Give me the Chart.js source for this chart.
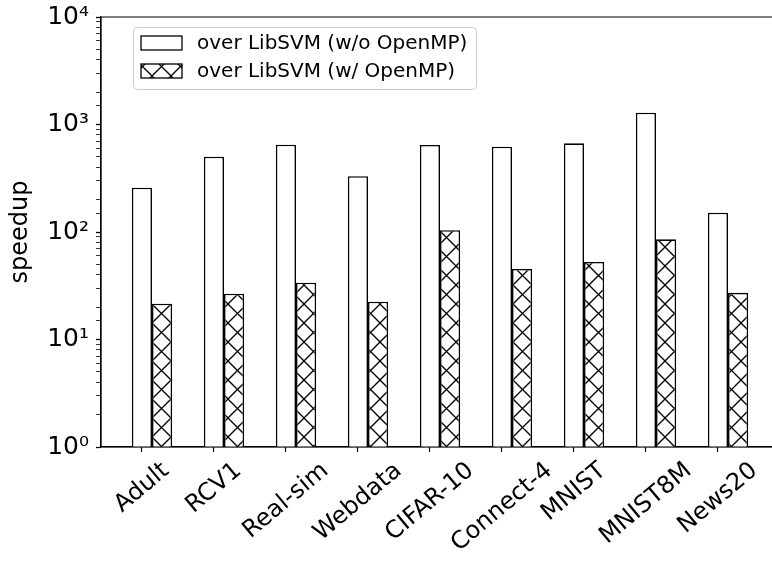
<!DOCTYPE html>
<html><head><meta charset="utf-8">
<script src="https://cdn.jsdelivr.net/npm/chart.js@4.4.1/dist/chart.umd.min.js"></script>
<style>
html,body{margin:0;padding:0;background:#fff;overflow:hidden;width:772px;height:561px}
#wrap{position:absolute;left:0;top:0;width:800px;height:561px}
</style>
</head><body><div id="wrap"><canvas id="c" width="800" height="561"></canvas></div>
<script>
// ---- data ----
const categories = ['Adult','RCV1','Real-sim','Webdata','CIFAR-10','Connect-4','MNIST','MNIST8M','News20'];
const seriesLabels = ['over LibSVM (w/o OpenMP)','over LibSVM (w/ OpenMP)'];
const speedupNoOpenMP = [258, 502, 649, 330, 645, 622, 668, 1288, 151];
const speedupOpenMP = [21.5, 26.7, 33.8, 22.5, 104, 45.3, 52.6, 85.5, 27.2];
const yTickLabels = ['10\u2070','10\u00B9','10\u00B2','10\u00B3','10\u2074'];

// ---- style ----
const FONT = '"DejaVu Sans", sans-serif';
const barW = 0.28;              // bar width in category units
const n = categories.length;
const span = (n - 1) + 2 * barW;
const xMin = -barW - 0.05 * span;
const xMax = (n - 1) + barW + 0.05 * span;

// hatch pattern ("xx")
function makeHatch() {
  const s = 19;
  const t = document.createElement('canvas');
  t.width = s; t.height = s;
  const g = t.getContext('2d');
  g.fillStyle = '#fff'; g.fillRect(0, 0, s, s);
  g.strokeStyle = '#000'; g.lineWidth = 1.3;
  for (let k = -1; k <= 1; k++) {
    g.beginPath(); g.moveTo(k * s, 0); g.lineTo(k * s + s, s); g.stroke();
    g.beginPath(); g.moveTo(k * s, s); g.lineTo(k * s + s, 0); g.stroke();
  }
  return g.createPattern(t, 'repeat');
}
const hatch = makeHatch();

const frame = {
  id: 'frame',
  afterDraw(chart) {
    const ctx = chart.ctx, a = chart.chartArea;
    ctx.save();
    // spines above bars
    ctx.strokeStyle = '#000'; ctx.lineWidth = 1.2;
    ctx.beginPath();
    ctx.moveTo(a.left, a.top); ctx.lineTo(a.right, a.top);
    ctx.moveTo(a.left, a.bottom); ctx.lineTo(a.right, a.bottom);
    ctx.moveTo(a.left, a.top); ctx.lineTo(a.left, a.bottom);
    ctx.stroke();

    // x tick labels (rotated, centred like matplotlib)
    const xs = chart.scales.x;
    const fs = 24;
    ctx.font = fs + 'px ' + FONT;
    ctx.fillStyle = '#000';
    ctx.textAlign = 'center'; ctx.textBaseline = 'middle';
    const ang = 40 * Math.PI / 180;
    xs.ticks.forEach((t, i) => {
      const px = xs.getPixelForTick(i);
      const w = ctx.measureText(categories[i]).width;
      const h = fs * 1.17;
      const H = w * Math.sin(ang) + h * Math.cos(ang);
      const cy = a.bottom + 10 + H / 2;
      ctx.save();
      ctx.translate(px, cy);
      ctx.rotate(-ang);
      ctx.fillText(categories[i], 0, 0);
      ctx.restore();
    });

    // legend
    const lx = a.left + 32, ly = a.top + 10, lw = 343, lh = 62;
    ctx.fillStyle = 'rgba(255,255,255,0.8)';
    ctx.strokeStyle = '#cccccc'; ctx.lineWidth = 1;
    ctx.beginPath(); ctx.roundRect(lx + 0.5, ly + 0.5, lw, lh, 4); ctx.fill(); ctx.stroke();
    ctx.font = '20px ' + FONT;
    ctx.textAlign = 'left'; ctx.textBaseline = 'middle';
    chart.data.datasets.forEach((ds, i) => {
      const ry = ly + 16 + i * 28;
      ctx.fillStyle = ds.backgroundColor;
      ctx.fillRect(lx + 8, ry - 7, 41, 14);
      ctx.strokeStyle = '#000'; ctx.lineWidth = 1.3;
      ctx.strokeRect(lx + 8, ry - 7, 41, 14);
      ctx.fillStyle = '#000';
      ctx.fillText(ds.label, lx + 64, ry + 1);
    });
    ctx.restore();
  }
};

new Chart(document.getElementById('c'), {
  type: 'bar',
  data: {
    datasets: [
      { label: seriesLabels[0], data: categories.map((c, i) => ({ x: i, y: speedupNoOpenMP[i] })),
        backgroundColor: '#ffffff', borderColor: '#000', borderWidth: 1.6 },
      { label: seriesLabels[1], data: categories.map((c, i) => ({ x: i, y: speedupOpenMP[i] })),
        backgroundColor: hatch, borderColor: '#000', borderWidth: 1.6 }
    ]
  },
  options: {
    responsive: false,
    animation: false,
    devicePixelRatio: 1,
    categoryPercentage: 2 * barW,
    barPercentage: 1,
    layout: { padding: { top: 17, right: 21, left: 0, bottom: 0 } },
    plugins: { legend: { display: false }, tooltip: { enabled: false } },
    scales: {
      x: {
        type: 'linear', min: xMin, max: xMax, offset: false,
        afterBuildTicks: (s) => { s.ticks = categories.map((c, i) => ({ value: i - barW / 2 })); },
        afterFit: (s) => { s.height = 114; s.paddingLeft = 0; s.paddingRight = 0; },
        ticks: { display: false },
        grid: { display: true, offset: false, drawOnChartArea: false, drawTicks: true, tickLength: 5, tickColor: '#000', tickWidth: 1.2 },
        border: { display: true, color: '#000', width: 1.2 }
      },
      y: {
        type: 'logarithmic', min: 1, max: 10000,
        afterFit: (s) => { s.width = 101; s.paddingTop = 0; s.paddingBottom = 0; },
        ticks: {
          autoSkip: false,
          padding: 7,
          color: '#000',
          font: { family: FONT, size: 25 },
          callback: (v) => {
            const e = Math.round(Math.log10(v));
            return Math.abs(v - Math.pow(10, e)) < 1e-9 ? yTickLabels[e] : '';
          }
        },
        grid: {
          display: true, drawOnChartArea: false, drawTicks: true, tickLength: 5, tickColor: '#000',
          tickWidth: (c) => { const v = c.tick ? c.tick.value : 1; const e = Math.round(Math.log10(v)); return Math.abs(v - Math.pow(10, e)) < 1e-9 ? 1.3 : 0.8; }
        },
        border: { display: true, color: '#000', width: 1.2 },
        title: { display: true, text: 'speedup', color: '#000', font: { family: FONT, size: 24 }, padding: { top: 6, bottom: 0 } }
      }
    }
  },
  plugins: [frame]
});
</script>
</body></html>
